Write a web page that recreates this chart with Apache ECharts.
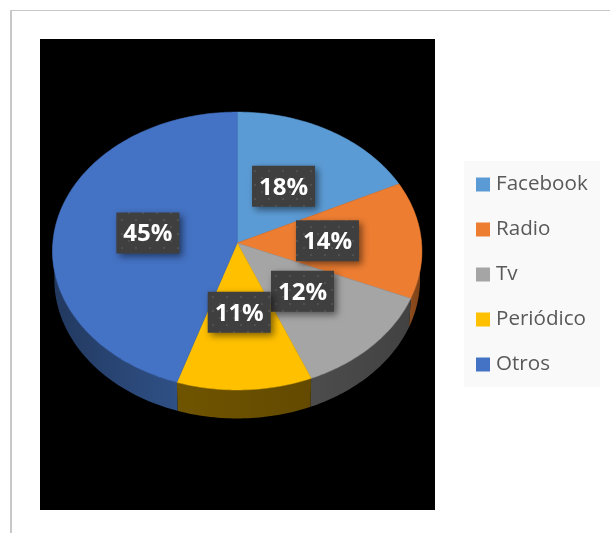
<!DOCTYPE html>
<html><head><meta charset="utf-8">
<style>html,body{margin:0;padding:0;background:#fff}#c{width:610px;height:533px}</style>
<script src="https://cdn.jsdelivr.net/npm/echarts@6/dist/echarts.min.js"></script>
</head><body><div id="c"></div>
<script>
const categories = ['Facebook','Radio','Tv','Periódico','Otros'];
const shares = [17.8,13.6,12.4,11.2,45];
const colors = ['#5b9bd5','#ed7d31','#a5a5a5','#ffc000','#4472c4'];
const wallColors = [['#2e4f6e','#27435e'],['#8f4d1e','#7a3f16'],['#4c4c4c','#424242'],['#6f5400','#634a00'],['#2f5086','#22395f']];
const labelNudge = [[-0.5,1],[0,1],[0.5,0.5],[-1.5,1],[-0.5,2]];

// tilted-disc projection
const CX=237.2, CY=243, RX=184.4, RY=138.5, K=0.0576, DEPTH=28.5, WALL_SHRINK=0.99;
function project(theta, r){
  const u=-Math.cos(theta)*r, s=Math.sin(theta)*r, d=1-K*u;
  return [CX+RX*s/d, CY+RY*u/d];
}
const total = shares.reduce((a,b)=>a+b,0);
const starts = shares.map((_,i)=>shares.slice(0,i).reduce((a,b)=>a+b,0));
const toAngle = v => v/total*Math.PI*2;
function arc(a0,a1){
  const n=Math.max(2,Math.ceil((a1-a0)/0.02)), pts=[];
  for(let i=0;i<=n;i++) pts.push(project(a0+(a1-a0)*i/n,1));
  return pts;
}

// dotted label-box texture
const tex=document.createElement('canvas'); tex.width=14; tex.height=14;
const g=tex.getContext('2d');
g.fillStyle='#3f3f3f'; g.fillRect(0,0,14,14);
g.fillStyle='#505050'; g.fillRect(2,2,2,2); g.fillRect(9,9,2,2);

function renderWall(params, api){
  const i=api.value(0);
  const a0=Math.max(toAngle(starts[i]),Math.PI/2), a1=Math.min(toAngle(starts[i]+api.value(1)),Math.PI*1.5);
  if(a1<=a0) return {type:'group',children:[]};
  const top=arc(a0,a1);
  const bottom=top.map(p=>[CX+(p[0]-CX)*WALL_SHRINK,p[1]+DEPTH]).reverse();
  return {type:'polygon',shape:{points:top.concat(bottom)},silent:true,
    style:{fill:new echarts.graphic.LinearGradient(i===4?1:0,0,i===4?0:1,0,[
      {offset:0,color:wallColors[i][0]},{offset:1,color:wallColors[i][1]}])}};
}
function sliceRenderer(i){
  return function(params, api){
    const a0=toAngle(starts[i]), a1=toAngle(starts[i]+api.value(0));
    return {type:'polygon',shape:{points:[[CX,CY]].concat(arc(a0,a1))},
      style:{fill:colors[i],stroke:colors[i],lineWidth:0.5}};
  };
}
function renderLabel(params, api){
  const i=api.value(0), v=api.value(1);
  const p=project(toAngle(starts[i]+v/2),0.49);
  const x=p[0]+labelNudge[i][0], y=p[1]-1.5+labelNudge[i][1];
  return {type:'group',children:[
    {type:'rect',shape:{x:x-31.5,y:y-20.5,width:63,height:41},silent:true,
      style:{fill:{image:tex,repeat:'repeat'},shadowBlur:7,shadowOffsetX:3,shadowOffsetY:3,shadowColor:'rgba(0,0,0,0.5)'}},
    {type:'text',x:x,y:y+1.5,silent:true,
      style:{text:Math.round(v)+'%',fill:'#fff',font:'bold 24px "Open Sans", sans-serif',align:'center',verticalAlign:'middle'}}
  ]};
}

const series=[
  {type:'custom',name:'walls',coordinateSystem:'none',z:2,silent:true,animation:false,renderItem:renderWall,
   data:shares.map((v,i)=>[i,v])},
  ...categories.map((name,i)=>({type:'custom',name,coordinateSystem:'none',z:3,animation:false,
    renderItem:sliceRenderer(i),itemStyle:{color:colors[i]},data:[[shares[i]]]})),
  {type:'custom',name:'labels',coordinateSystem:'none',z:4,silent:true,animation:false,renderItem:renderLabel,
   data:shares.map((v,i)=>[i,v])}
];

const chart=echarts.init(document.getElementById('c'),null,{renderer:'canvas'});
chart.setOption({
  animation:false,
  backgroundColor:'#fff',
  tooltip:{show:false},
  graphic:{elements:[
    {type:'rect',z:0,shape:{x:10,y:10,width:2,height:523},style:{fill:'#c8c8c8'},silent:true},
    {type:'rect',z:0,shape:{x:10,y:10,width:600,height:1},style:{fill:'#c8c8c8'},silent:true},
    {type:'rect',z:0,shape:{x:40,y:39,width:395,height:471},style:{fill:'#000'},silent:true},
    {type:'rect',z:0,shape:{x:464,y:161,width:136,height:226},style:{fill:'#f9f9f9'},silent:true}
  ]},
  legend:{
    data:categories,orient:'vertical',left:476,top:174,padding:0,z:5,
    itemWidth:14,itemHeight:14,itemGap:24,icon:'rect',
    selectedMode:false,
    textStyle:{color:'#595959',fontSize:20.6,lineHeight:20,fontFamily:'"Open Sans", sans-serif',padding:[1,0,0,1]}
  },
  series
});
</script></body></html>
